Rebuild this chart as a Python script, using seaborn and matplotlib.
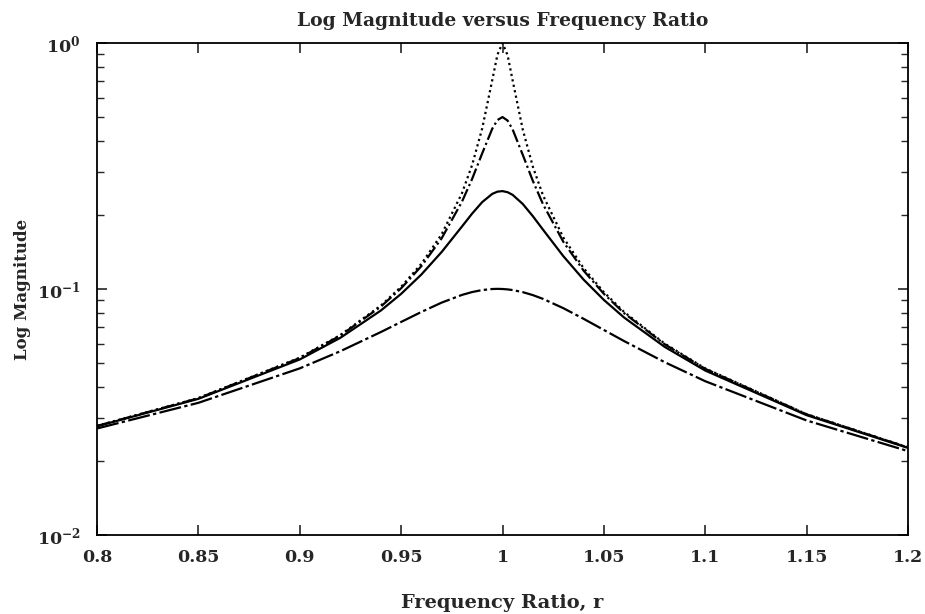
import numpy as np
import pandas as pd
import matplotlib
matplotlib.use("Agg")
import matplotlib.pyplot as plt
import seaborn as sns
from matplotlib.ticker import FixedLocator, LogLocator, NullFormatter

# Frequency ratio sample points
r = [0.8, 0.85, 0.9, 0.92, 0.94, 0.95, 0.96, 0.97, 0.98, 0.985, 0.99, 0.995,
     0.9975, 1.0, 1.0025, 1.005, 1.01, 1.015, 1.02, 1.03, 1.04, 1.05, 1.06,
     1.08, 1.1, 1.15, 1.2]

# Magnitude curves (peak 1.0, 0.5, 0.25, 0.1)
mag_peak_1 = [0.02777, 0.03602, 0.05257, 0.06499, 0.08563, 0.10208, 0.1266,
              0.16697, 0.24515, 0.31878, 0.44984, 0.70976, 0.8964, 1.0,
              0.89244, 0.70446, 0.44455, 0.31357, 0.24, 0.1619, 0.12156,
              0.09706, 0.08061, 0.05997, 0.04755, 0.03099, 0.02272]
mag_peak_05 = [0.02775, 0.03597, 0.0524, 0.06464, 0.08481, 0.10067, 0.12388,
               0.16077, 0.22634, 0.28003, 0.35625, 0.44924, 0.48625, 0.5,
               0.48389, 0.44521, 0.35093, 0.27462, 0.22096, 0.15555, 0.11875,
               0.09558, 0.07974, 0.0596, 0.04736, 0.03093, 0.02269]
mag_peak_025 = [0.02767, 0.03577, 0.05171, 0.06331, 0.08175, 0.09556, 0.11454,
                0.14145, 0.17946, 0.20247, 0.22563, 0.24372, 0.24869, 0.25,
                0.24746, 0.24137, 0.22162, 0.19755, 0.17416, 0.136, 0.10917,
                0.09028, 0.07653, 0.05817, 0.04661, 0.0307, 0.02259]
mag_peak_01 = [0.0271, 0.03446, 0.04757, 0.05585, 0.06684, 0.07346, 0.08068,
               0.08804, 0.09461, 0.09718, 0.09903, 0.1, 0.10013, 0.1,
               0.09963, 0.09901, 0.09711, 0.09442, 0.09115, 0.08357, 0.07565,
               0.06815, 0.06141, 0.05041, 0.04218, 0.02921, 0.02193]

series_names = ["peak 1", "peak 0.5", "peak 0.25", "peak 0.1"]
x_ticks = [0.8, 0.85, 0.9, 0.95, 1.0, 1.05, 1.1, 1.15, 1.2]
x_tick_labels = ["0.8", "0.85", "0.9", "0.95", "1", "1.05", "1.1", "1.15", "1.2"]

df = pd.DataFrame({
    "r": r * 4,
    "mag": mag_peak_1 + mag_peak_05 + mag_peak_025 + mag_peak_01,
    "curve": sum([[n] * len(r) for n in series_names], []),
})

sns.set_style("ticks")
plt.rcParams["font.family"] = ["DejaVu Serif"]
plt.rcParams["font.weight"] = "bold"
plt.rcParams["mathtext.default"] = "bf"

fig = plt.figure(figsize=(9.25, 6.14), dpi=100)
ax = fig.add_axes([97 / 925, 1 - 535 / 614, (908 - 97) / 925, (535 - 43) / 614])

styles = {"peak 1": (0, (1, 1.5)), "peak 0.5": (0, (6, 1.5, 1, 1.5)),
          "peak 0.25": "-", "peak 0.1": (0, (10, 1.5, 1.5, 1.5))}
for name in series_names:
    sub = df[df["curve"] == name]
    sns.lineplot(data=sub, x="r", y="mag", ax=ax, color="black",
                 linewidth=1.6, linestyle=styles[name], legend=False,
                 sort=False)

ax.set_yscale("log")
ax.set_xlim(0.8, 1.2)
ax.set_ylim(0.01, 1.0)
ax.xaxis.set_major_locator(FixedLocator(x_ticks))
ax.set_xticklabels(x_tick_labels, fontsize=12.5, fontweight="bold")
ax.yaxis.set_major_locator(LogLocator(base=10, numticks=5))
ax.yaxis.set_minor_locator(LogLocator(base=10, subs=np.arange(2, 10), numticks=10))
ax.yaxis.set_minor_formatter(NullFormatter())
for lab in ax.get_yticklabels():
    lab.set_fontsize(12.5)
    lab.set_fontweight("bold")

ax.tick_params(axis="both", which="major", direction="in", length=7, width=1.2,
               top=True, right=True)
ax.tick_params(axis="x", which="major", pad=10)
ax.tick_params(axis="y", which="major", pad=12)
ax.tick_params(axis="y", which="minor", direction="in", length=5, width=1.0,
               left=True, right=True)
ax.tick_params(axis="x", which="minor", bottom=False, top=False)
for s in ax.spines.values():
    s.set_linewidth(1.3)
    s.set_color("black")

ax.set_title("Log Magnitude versus Frequency Ratio", fontsize=13.5,
             fontweight="bold", pad=12)
ax.set_xlabel("Frequency Ratio, r", fontsize=14, fontweight="bold", labelpad=20)
ax.set_ylabel("Log Magnitude", fontsize=12, fontweight="bold", labelpad=2)
ax.yaxis.set_label_coords(-66 / 811, 0.5)

fig.savefig("out.png", dpi=100, facecolor="white")
